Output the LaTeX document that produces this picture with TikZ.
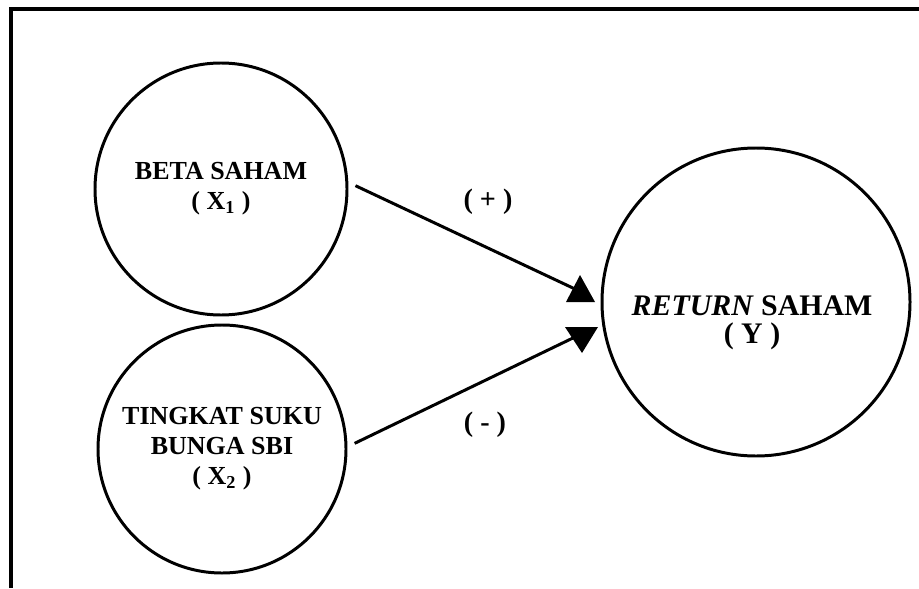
\documentclass[tikz,border=0pt]{standalone}
\usepackage{fontspec}
\setmainfont{Liberation Serif}

\begin{document}
\begin{tikzpicture}[x=0.02cm,y=-0.02cm,
  var/.style={draw,circle,line width=1.7pt,inner sep=0pt,align=center,font=\bfseries\fontsize{14.8}{17}\selectfont},
  link/.style={line width=1.7pt,shorten <=4.5pt},
  sign/.style={font=\bfseries\fontsize{16}{18}\selectfont}]
\useasboundingbox (0,0) rectangle (919,588);
\draw[line width=2.3pt] (11,588) -- (11,9) -- (919,9);

\node[var,minimum size=252*0.02cm] (beta) at (221,189) {BETA SAHAM\\( X\textsubscript{1} )};
\node[var,minimum size=248*0.02cm] (sbi) at (222,449) {TINGKAT SUKU\\BUNGA SBI\\( X\textsubscript{2} )};
\node[var,minimum size=308*0.02cm] (ret) at (756,302) {};
\node[font=\bfseries\fontsize{17}{20}\selectfont,align=center] (rettext) at (752,323) {\textit{RETURN} SAHAM\\[-4pt]( Y )};

\coordinate (tipA) at (575,289);
\coordinate (tipB) at (575,337);
\draw[link] (beta.3) -- (tipA);
\draw[link] (sbi.1) -- (tipB);
\fill (566,302) -- (595,302) -- (580,275) -- cycle;
\fill (565,327) -- (598,327) -- (582,353) -- cycle;

\node[sign] (plus) at (488,202) {( + )};
\node[sign] (minus) at (485,425) {( - )};
\end{tikzpicture}
\end{document}
